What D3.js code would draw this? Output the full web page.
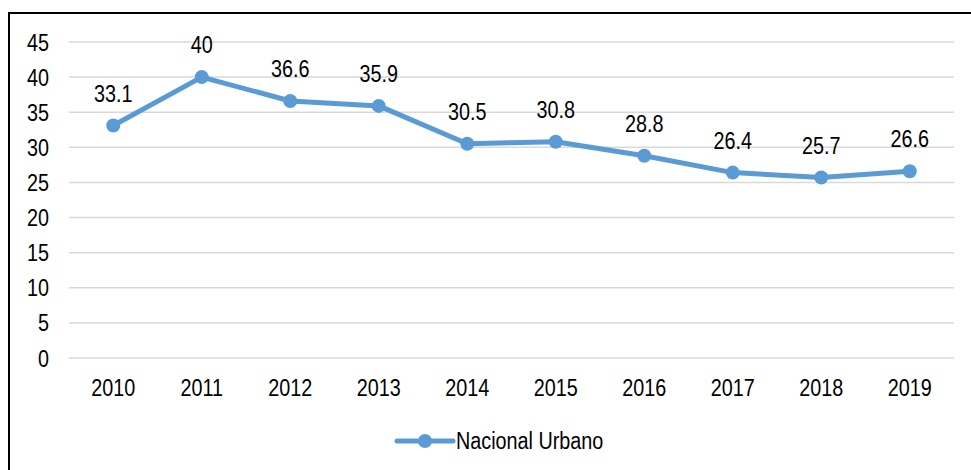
<!DOCTYPE html>
<html>
<head>
<meta charset="utf-8">
<script src="https://cdn.jsdelivr.net/npm/d3@7"></script>
<style>
  body { margin: 0; background: #fff; }
  svg text { font-family: "Liberation Sans", Arial, sans-serif; fill: #000; }
</style>
</head>
<body>
<div id="canvas"></div>
<script>
"use strict"

// data
let years = ["2010", "2011", "2012", "2013", "2014", "2015", "2016", "2017", "2018", "2019"];
let values = [33.1, 40, 36.6, 35.9, 30.5, 30.8, 28.8, 26.4, 25.7, 26.6];
let yTicks = [0, 5, 10, 15, 20, 25, 30, 35, 40, 45];
let seriesName = "Nacional Urbano";

let width = 971;
let height = 470;
let lineColour = "#5b9bd5";
let fontSize = 23;
let narrow = "scale(0.86,1)";// no narrow font here, so squeeze it

let drawing = d3.select("#canvas")
    .append("svg")
    .attr("width", width)
    .attr("height", height);

// outer frame (right and bottom fall off the picture)
drawing.append("rect")
    .attr("x", 9)
    .attr("y", 13)
    .attr("width", 970)
    .attr("height", 470)
    .attr("fill", "none")
    .attr("stroke", "black")
    .attr("stroke-width", 2);

let x = d3.scaleBand()
    .domain(years)
    .range([69, 954]);

let y = d3.scaleLinear()
    .domain([0, 45])
    .range([358, 42]);

// gridlines
drawing.append("g")
    .selectAll("line")
    .data(yTicks)
    .join("line")
    .attr("x1", 69)
    .attr("x2", 954)
    .attr("y1", d => y(d))
    .attr("y2", d => y(d))
    .attr("stroke", "#d9d9d9")
    .attr("stroke-width", 1.5);

// y axis labels
let yAxis = drawing.append("g")
    .attr("transform", "translate(49,0)")
    .call(d3.axisLeft(y).tickValues(yTicks).tickSize(0).tickPadding(0));
yAxis.select(".domain").remove();
yAxis.attr("font-family", null).attr("font-size", null);
yAxis.selectAll("text")
    .attr("font-size", fontSize)
    .attr("dy", "0.35em")
    .attr("transform", narrow);

// x axis labels
let xAxis = drawing.append("g")
    .attr("transform", "translate(0,396)")
    .call(d3.axisBottom(x).tickSize(0).tickPadding(0));
xAxis.select(".domain").remove();
xAxis.attr("font-family", null).attr("font-size", null);
xAxis.selectAll("text")
    .attr("font-size", fontSize)
    .attr("dy", 0)
    .attr("transform", narrow);

let cx = d => x(d) + x.bandwidth() / 2;

// the line
let line = d3.line()
    .x((d, i) => cx(years[i]))
    .y(d => y(d));

drawing.append("path")
    .datum(values)
    .attr("d", line)
    .attr("fill", "none")
    .attr("stroke", lineColour)
    .attr("stroke-width", 5)
    .attr("stroke-linejoin", "round");

// markers
drawing.append("g")
    .selectAll("circle")
    .data(values)
    .join("circle")
    .attr("cx", (d, i) => cx(years[i]))
    .attr("cy", d => y(d))
    .attr("r", 7)
    .attr("fill", lineColour);

// value labels
drawing.append("g")
    .selectAll("g")
    .data(values)
    .join("g")
    .attr("transform", (d, i) => "translate(" + cx(years[i]) + "," + (y(d) - 24) + ")")
    .append("text")
    .attr("transform", narrow)
    .attr("text-anchor", "middle")
    .attr("font-size", fontSize)
    .text(d => d);

// legend
let legend = drawing.append("g")
    .attr("transform", "translate(397,441)");
legend.append("line")
    .attr("x1", 0)
    .attr("x2", 56)
    .attr("stroke", lineColour)
    .attr("stroke-width", 5)
    .attr("stroke-linecap", "round");
legend.append("circle")
    .attr("cx", 28)
    .attr("r", 7)
    .attr("fill", lineColour);
legend.append("g")
    .attr("transform", "translate(59,8)")
    .append("text")
    .attr("transform", narrow)
    .attr("font-size", fontSize)
    .text(seriesName);
</script>
</body>
</html>
